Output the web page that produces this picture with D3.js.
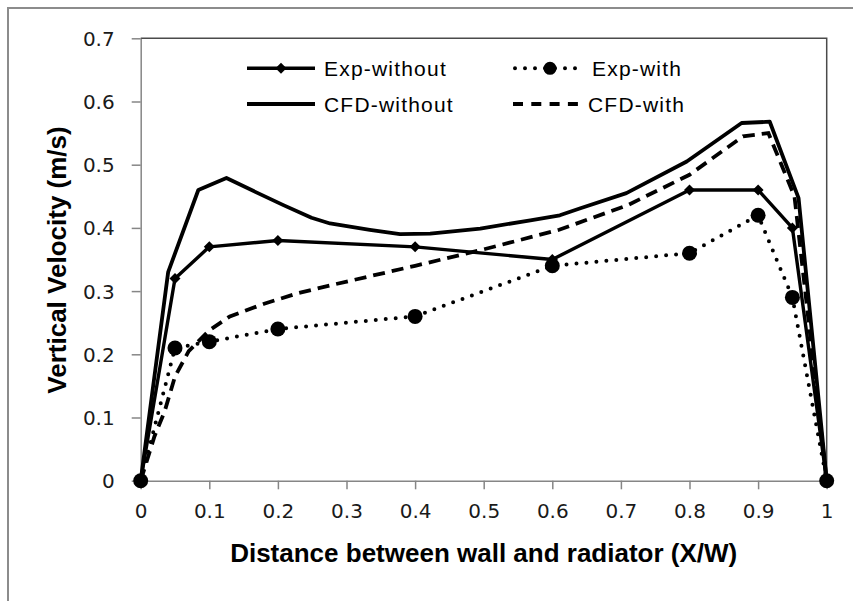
<!DOCTYPE html>
<html><head><meta charset="utf-8">
<script src="https://cdn.jsdelivr.net/npm/d3@7/dist/d3.min.js"></script>
<style>body{margin:0;background:#fff}svg{display:block}</style>
</head><body>
<svg id="c" width="853" height="601"></svg>
<script>
const xTicks = [0,0.1,0.2,0.3,0.4,0.5,0.6,0.7,0.8,0.9,1];
const xTickLabels = ["0","0.1","0.2","0.3","0.4","0.5","0.6","0.7","0.8","0.9","1"];
const yTicks = [0,0.1,0.2,0.3,0.4,0.5,0.6,0.7];
const yTickLabels = ["0","0.1","0.2","0.3","0.4","0.5","0.6","0.7"];

const expX = [0,0.05,0.1,0.2,0.4,0.6,0.8,0.9,0.95,1];
const expWithout = [0,0.32,0.37,0.38,0.37,0.35,0.46,0.46,0.40,0];
const expWith = [0,0.21,0.22,0.24,0.26,0.34,0.36,0.42,0.29,0];

const cfdWithoutX = [0,0.04,0.084,0.125,0.167,0.208,0.249,0.276,0.334,0.378,0.422,0.495,0.568,0.611,0.641,0.708,0.796,0.876,0.917,0.959,1];
const cfdWithout = [0,0.33,0.46,0.479,0.457,0.436,0.416,0.407,0.397,0.39,0.391,0.399,0.412,0.42,0.431,0.455,0.505,0.566,0.568,0.447,0];

const cfdWithX = [0,0.02,0.035,0.05,0.07,0.1,0.13,0.18,0.23,0.28,0.4,0.5,0.61,0.71,0.8,0.878,0.915,0.953,1];
const cfdWith = [0,0.07,0.11,0.165,0.205,0.238,0.26,0.28,0.297,0.31,0.34,0.366,0.397,0.436,0.484,0.545,0.55,0.45,0];

const legendNames = ["Exp-without","Exp-with","CFD-without","CFD-with"];

const svg = d3.select("#c");
const L = 140.7, R = 826.7, T = 38.3, B = 480.7;
const x = d3.scaleLinear().domain([0,1]).range([L,R]);
const y = d3.scaleLinear().domain([0,0.7]).range([B,T]);

// outer border
svg.append("rect").attr("x",8).attr("y",8).attr("width",870).attr("height",620)
  .attr("fill","none").attr("stroke","#8c8c8c").attr("stroke-width",2);

// plot frame top/right
svg.append("path").attr("d",`M${L},${T}H${R}V${B}`).attr("fill","none")
  .attr("stroke","#4a4a4a").attr("stroke-width",1.5);

// axes
const xAxis = d3.axisBottom(x).tickValues(xTicks).tickFormat((d,i)=>xTickLabels[i]).tickSize(8.6).tickSizeOuter(0).tickPadding(15);
const gx = svg.append("g").attr("transform",`translate(0,${B})`).call(xAxis);
const yAxis = d3.axisLeft(y).tickValues(yTicks).tickFormat((d,i)=>yTickLabels[i]).tickSize(9).tickSizeOuter(0).tickPadding(17);
const gy = svg.append("g").attr("transform",`translate(${L},0)`).call(yAxis);
[gx,gy].forEach(g=>{
  g.select(".domain").attr("stroke","#868686").attr("stroke-width",1.5);
  g.selectAll(".tick line").attr("stroke","#868686").attr("stroke-width",1.5);
  g.selectAll(".tick text").attr("font-family","DejaVu Sans").attr("font-size",20).attr("fill","#1a1a1a");
});
gy.selectAll(".tick text").attr("dy","0.35em");
gx.selectAll(".tick text").attr("dy","0.71em");

// titles
svg.append("text").attr("x",(L+R)/2).attr("y",562).attr("text-anchor","middle")
  .attr("font-family","Liberation Sans").attr("font-weight","bold").attr("font-size",26)
  .text("Distance between wall and radiator (X/W)");
svg.append("text").attr("transform","translate(66,260) rotate(-90)").attr("text-anchor","middle")
  .attr("font-family","Liberation Sans").attr("font-weight","bold").attr("font-size",26)
  .text("Vertical Velocity (m/s)");

const line = d3.line().x(d=>x(d[0])).y(d=>y(d[1]));
const zip = (a,b)=>a.map((v,i)=>[v,b[i]]);

// series
svg.append("path").datum(zip(expX,expWithout)).attr("d",line).attr("fill","none")
  .attr("stroke","#000").attr("stroke-width",3.4).attr("stroke-linejoin","round");
svg.append("path").datum(zip(expX,expWith)).attr("d",line).attr("fill","none")
  .attr("stroke","#000").attr("stroke-width",4).attr("stroke-linecap","round").attr("stroke-dasharray","0 10");
svg.append("path").datum(zip(cfdWithoutX,cfdWithout)).attr("d",line).attr("fill","none")
  .attr("stroke","#000").attr("stroke-width",3.8).attr("stroke-linejoin","round");
svg.append("path").datum(zip(cfdWithX,cfdWith)).attr("d",line).attr("fill","none")
  .attr("stroke","#000").attr("stroke-width",3.8).attr("stroke-dasharray","12 7");

const diamond = (cx,cy,s)=>`M${cx},${cy-s}L${cx+s},${cy}L${cx},${cy+s}L${cx-s},${cy}Z`;
svg.append("g").selectAll("path").data(zip(expX,expWithout)).join("path")
  .attr("d",d=>diamond(x(d[0]),y(d[1]),5.5)).attr("fill","#000");
svg.append("g").selectAll("circle").data(zip(expX,expWith)).join("circle")
  .attr("cx",d=>x(d[0])).attr("cy",d=>y(d[1])).attr("r",7.5).attr("fill","#000");

// legend
const lg = svg.append("g").attr("font-family","Liberation Sans").attr("font-size",21).attr("letter-spacing","1.2px");
// row 1 col 1
lg.append("line").attr("x1",247).attr("x2",315).attr("y1",68.3).attr("y2",68.3).attr("stroke","#000").attr("stroke-width",3.4);
lg.append("path").attr("d",diamond(281,68.3,5.5)).attr("fill","#000");
lg.append("text").attr("x",324).attr("y",75.5).text(legendNames[0]);
// row 1 col 2
lg.append("line").attr("x1",515).attr("x2",577).attr("y1",68.3).attr("y2",68.3).attr("stroke","#000").attr("stroke-width",4)
  .attr("stroke-linecap","round").attr("stroke-dasharray","0 10");
lg.append("circle").attr("cx",550).attr("cy",68.3).attr("r",6.5).attr("fill","#000");
lg.append("text").attr("x",592).attr("y",75.5).text(legendNames[1]);
// row 2 col 1
lg.append("line").attr("x1",247).attr("x2",315).attr("y1",104).attr("y2",104).attr("stroke","#000").attr("stroke-width",3.8);
lg.append("text").attr("x",324).attr("y",111.5).text(legendNames[2]);
// row 2 col 2
lg.append("line").attr("x1",513).attr("x2",584).attr("y1",104).attr("y2",104).attr("stroke","#000").attr("stroke-width",3.8)
  .attr("stroke-dasharray","10 8.3");
lg.append("text").attr("x",588).attr("y",111.5).text(legendNames[3]);
</script>
</body></html>
